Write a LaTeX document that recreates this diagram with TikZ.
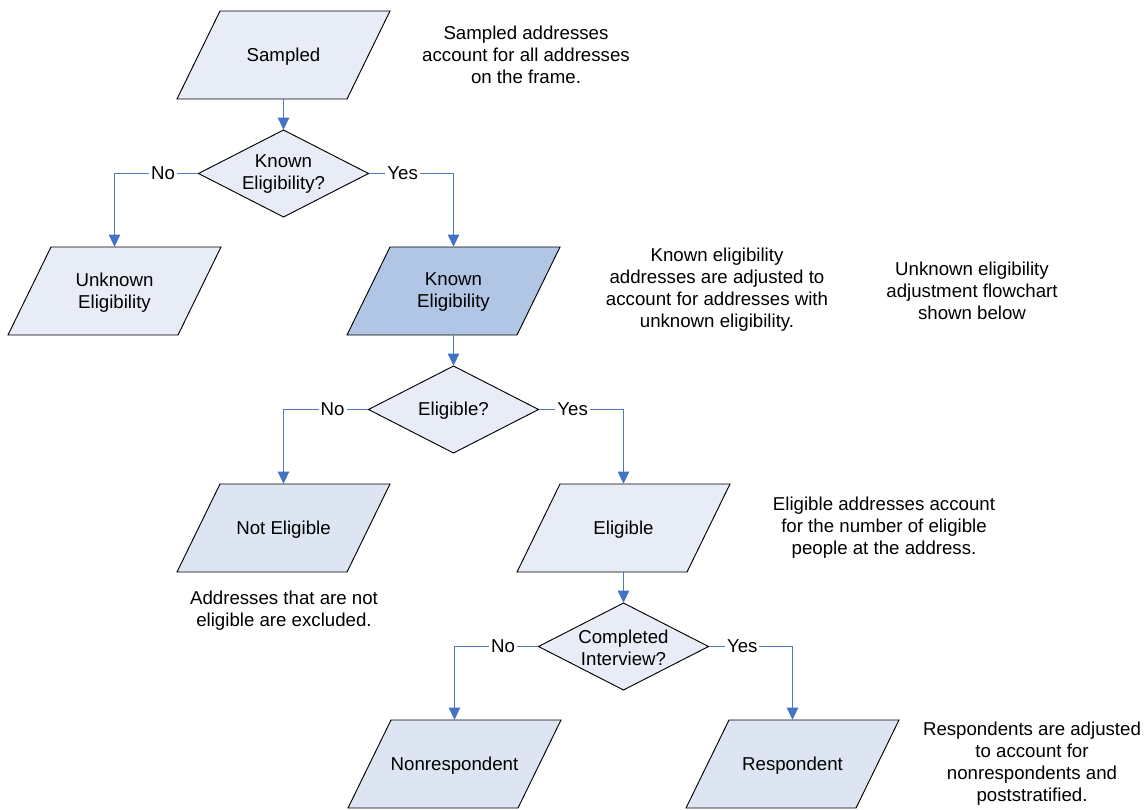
\documentclass[tikz,border=0pt]{standalone}
\usepackage{fontspec}
\setmainfont{Liberation Sans}
\usetikzlibrary{arrows.meta}
\definecolor{lightfill}{HTML}{E8ECF6}
\definecolor{midfill}{HTML}{DCE5F1}
\definecolor{darkfill}{HTML}{B1C5E5}
\definecolor{linkblue}{HTML}{4A7EBB}
\definecolor{tipblue}{HTML}{4472C4}
\tikzset{
  shapeline/.style={draw=black, line width=0.7pt},
  anchorbox/.style={draw=none, inner sep=0pt, minimum width=127.5pt},
  boxtext/.style={align=center, inner sep=0pt, font=\fontsize{14}{16.5}\selectfont},
  conn/.style={draw=linkblue, line width=0.75pt, -{Triangle[width=8.5pt,length=9pt,color=tipblue]}},
  lbl/.style={fill=white, inner sep=1.5pt, font=\fontsize{14}{16.5}\selectfont},
  note/.style={align=center, inner sep=0pt, font=\fontsize{14}{16.5}\selectfont}
}
% parallelogram: name, cx, cy, fill, text
\newcommand\parabox[5]{%
  \filldraw[shapeline, fill=#4] (#2-106.5,#3+44) -- (#2+63.5,#3+44) -- (#2+106.5,#3-44) -- (#2-63.5,#3-44) -- cycle;
  \node[anchorbox, minimum height=66pt] (#1) at (#2,#3) {};
  \node[boxtext] (#1-text) at (#2,#3+1.5) {#5};
}
% diamond: name, cx, cy, text
\newcommand\decbox[4]{%
  \filldraw[shapeline, fill=lightfill] (#2-85,#3) -- (#2,#3-43.5) -- (#2+85,#3) -- (#2,#3+43.5) -- cycle;
  \node[anchorbox, minimum height=65.25pt] (#1) at (#2,#3) {};
  \node[boxtext] (#1-text) at (#2,#3+1) {#4};
}
\begin{document}
\begin{tikzpicture}[x=0.75pt, y=-0.75pt]
\useasboundingbox (0,0) rectangle (1144,809);

\parabox{sampled}{283.5}{55}{lightfill}{Sampled}
\decbox{knownq}{283.5}{173.5}{Known\\Eligibility?}
\parabox{unknown}{114.5}{291}{lightfill}{Unknown\\Eligibility}
\parabox{known}{453.5}{291}{darkfill}{Known\\Eligibility}
\decbox{eligq}{453.5}{409.5}{Eligible?}
\parabox{noteligible}{283.5}{528}{midfill}{Not Eligible}
\parabox{eligible}{623.5}{528}{lightfill}{Eligible}
\decbox{compq}{623.5}{646.5}{Completed\\Interview?}
\parabox{nonresp}{454.5}{764}{midfill}{Nonrespondent}
\parabox{resp}{792.5}{764}{midfill}{Respondent}

\draw[conn] (sampled.south) -- (knownq.north);
\draw[conn] (knownq.west) -| node[lbl, pos=0.21] {No} (unknown.north);
\draw[conn] (knownq.east) -| node[lbl, pos=0.2] {Yes} (known.north);
\draw[conn] (known.south) -- (eligq.north);
\draw[conn] (eligq.west) -| node[lbl, pos=0.21] {No} (noteligible.north);
\draw[conn] (eligq.east) -| node[lbl, pos=0.2] {Yes} (eligible.north);
\draw[conn] (eligible.south) -- (compq.north);
\draw[conn] (compq.west) -| node[lbl, pos=0.21] {No} (nonresp.north);
\draw[conn] (compq.east) -| node[lbl, pos=0.2] {Yes} (resp.north);

\node[note] (n1) at (526,55) {Sampled addresses\\account for all addresses\\on the frame.};
\node[note] (n2) at (717,290) {Known eligibility\\addresses are adjusted to\\account for addresses with\\unknown eligibility.};
\node[note] (n3) at (972,291) {Unknown eligibility\\adjustment flowchart\\shown below};
\node[note] (n4) at (884,528) {Eligible addresses account\\for the number of eligible\\people at the address.};
\node[note] (n5) at (284,611) {Addresses that are not\\eligible are excluded.};
\node[note] (n6) at (1032,764) {Respondents are adjusted\\to account for\\nonrespondents and\\poststratified.};
\end{tikzpicture}
\end{document}
